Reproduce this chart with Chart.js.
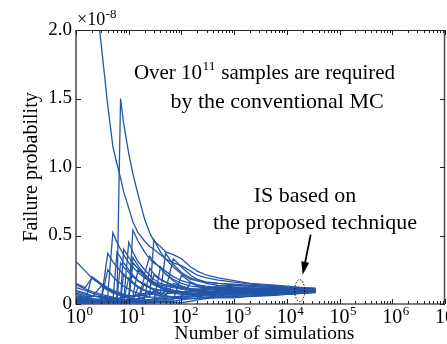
<!DOCTYPE html>
<html>
<head>
<meta charset="UTF-8">
<script src="https://cdn.jsdelivr.net/npm/chart.js"></script>
<style>
  body { margin: 0; background: #fff; }
  canvas { display: block; }
</style>
</head>
<body>
<canvas id="c" width="447" height="344"></canvas>
<script>
// number of simulations (shared x grid for all runs)
const nSim = [1, 1.5, 2, 3, 4, 5, 6, 7, 8, 10, 12, 15, 20, 25, 30, 40, 50, 70, 100, 150, 200, 300, 500, 1000, 2000, 5000, 10000, 20000, 35000];

// running failure probability estimates, in units of 1e-8
const run01 = [4.2, 3.1, 2.5, 1.9, 1.45, 1.15, 1.02, 0.92, 0.82, 0.70, 0.60, 0.52, 0.46, 0.42, 0.40, 0.36, 0.33, 0.30, 0.28, 0.24, 0.21, 0.19, 0.175, 0.16, 0.145, 0.135, 0.125, 0.118, 0.113];
const run02 = [0.02, 0.03, 0.02, 0.04, 0.05, 0.04, 0.05, 1.50, 1.32, 1.10, 0.95, 0.80, 0.62, 0.52, 0.46, 0.42, 0.38, 0.36, 0.33, 0.27, 0.24, 0.21, 0.19, 0.17, 0.15, 0.14, 0.13, 0.12, 0.115];
const run03 = [0.05, 0.04, 0.06, 0.05, 0.06, 0.52, 0.45, 0.40, 0.36, 0.30, 0.27, 0.23, 0.19, 0.17, 0.16, 0.14, 0.13, 0.12, 0.11, 0.10, 0.09, 0.08, 0.07, 0.065, 0.068, 0.072, 0.078, 0.083, 0.087];
const run04 = [0.02, 0.03, 0.02, 0.03, 0.37, 0.31, 0.27, 0.24, 0.21, 0.18, 0.20, 0.17, 0.14, 0.12, 0.11, 0.10, 0.09, 0.09, 0.085, 0.08, 0.07, 0.065, 0.06, 0.055, 0.06, 0.066, 0.072, 0.079, 0.085];
const run05 = [0.31, 0.24, 0.19, 0.14, 0.11, 0.09, 0.08, 0.07, 0.06, 0.05, 0.30, 0.26, 0.21, 0.18, 0.16, 0.13, 0.12, 0.10, 0.09, 0.09, 0.10, 0.115, 0.13, 0.135, 0.13, 0.122, 0.115, 0.11, 0.107];
const run06 = [0.01, 0.01, 0.02, 0.02, 0.03, 0.03, 0.02, 0.03, 0.40, 0.34, 0.30, 0.26, 0.22, 0.35, 0.31, 0.26, 0.22, 0.18, 0.15, 0.13, 0.125, 0.12, 0.12, 0.12, 0.118, 0.112, 0.108, 0.105, 0.103];
const run07 = [0.04, 0.03, 0.03, 0.02, 0.02, 0.03, 0.03, 0.03, 0.03, 0.02, 0.54, 0.46, 0.38, 0.33, 0.30, 0.27, 0.24, 0.20, 0.17, 0.15, 0.14, 0.13, 0.12, 0.11, 0.105, 0.10, 0.10, 0.10, 0.10];
const run08 = [0.00, 0.01, 0.01, 0.01, 0.02, 0.02, 0.02, 0.02, 0.03, 0.03, 0.03, 0.04, 0.05, 0.05, 0.47, 0.38, 0.33, 0.27, 0.22, 0.18, 0.17, 0.16, 0.15, 0.145, 0.135, 0.128, 0.12, 0.113, 0.11];
const run09 = [0.02, 0.01, 0.02, 0.02, 0.03, 0.03, 0.04, 0.04, 0.05, 0.05, 0.05, 0.06, 0.07, 0.08, 0.09, 0.08, 0.37, 0.29, 0.23, 0.19, 0.17, 0.15, 0.135, 0.125, 0.118, 0.11, 0.106, 0.103, 0.101];
const run10 = [0.03, 0.03, 0.02, 0.03, 0.03, 0.04, 0.04, 0.04, 0.05, 0.06, 0.06, 0.07, 0.08, 0.08, 0.09, 0.10, 0.10, 0.33, 0.27, 0.21, 0.18, 0.16, 0.15, 0.14, 0.128, 0.118, 0.112, 0.108, 0.105];
const run11 = [0.15, 0.12, 0.19, 0.14, 0.11, 0.09, 0.08, 0.07, 0.07, 0.06, 0.06, 0.06, 0.06, 0.07, 0.07, 0.08, 0.08, 0.08, 0.09, 0.09, 0.09, 0.085, 0.08, 0.08, 0.082, 0.086, 0.09, 0.093, 0.095];
const run12 = [0.12, 0.10, 0.08, 0.06, 0.05, 0.04, 0.04, 0.30, 0.27, 0.23, 0.20, 0.17, 0.14, 0.12, 0.11, 0.10, 0.10, 0.09, 0.09, 0.09, 0.09, 0.09, 0.095, 0.10, 0.098, 0.097, 0.098, 0.099, 0.10];
const run13 = [0.09, 0.07, 0.06, 0.05, 0.04, 0.04, 0.03, 0.03, 0.03, 0.03, 0.03, 0.04, 0.04, 0.26, 0.22, 0.18, 0.16, 0.13, 0.11, 0.10, 0.09, 0.08, 0.08, 0.085, 0.088, 0.09, 0.092, 0.094, 0.096];
const run14 = [0.06, 0.05, 0.04, 0.03, 0.03, 0.03, 0.02, 0.02, 0.02, 0.45, 0.38, 0.31, 0.25, 0.21, 0.18, 0.15, 0.14, 0.13, 0.12, 0.11, 0.11, 0.11, 0.105, 0.105, 0.105, 0.103, 0.10, 0.10, 0.10];
const run15 = [0.04, 0.03, 0.03, 0.02, 0.02, 0.02, 0.02, 0.02, 0.02, 0.02, 0.02, 0.03, 0.03, 0.03, 0.04, 0.04, 0.05, 0.05, 0.06, 0.06, 0.055, 0.05, 0.05, 0.05, 0.058, 0.065, 0.072, 0.08, 0.086];
const run16 = [0.02, 0.02, 0.20, 0.15, 0.12, 0.10, 0.09, 0.08, 0.07, 0.06, 0.06, 0.25, 0.20, 0.17, 0.15, 0.12, 0.11, 0.10, 0.09, 0.08, 0.08, 0.085, 0.09, 0.09, 0.092, 0.093, 0.095, 0.096, 0.097];
const run17 = [0.01, 0.01, 0.01, 0.01, 0.01, 0.01, 0.01, 0.01, 0.01, 0.01, 0.01, 0.01, 0.02, 0.02, 0.02, 0.03, 0.03, 0.04, 0.04, 0.04, 0.045, 0.045, 0.045, 0.045, 0.055, 0.062, 0.07, 0.078, 0.084];
const run18 = [0.07, 0.05, 0.04, 0.03, 0.25, 0.20, 0.17, 0.15, 0.13, 0.11, 0.09, 0.08, 0.06, 0.05, 0.05, 0.05, 0.06, 0.15, 0.13, 0.11, 0.10, 0.10, 0.11, 0.115, 0.112, 0.108, 0.105, 0.103, 0.103];
const run19 = [0.03, 0.02, 0.02, 0.02, 0.02, 0.02, 0.38, 0.34, 0.30, 0.25, 0.21, 0.17, 0.14, 0.12, 0.21, 0.18, 0.16, 0.14, 0.12, 0.11, 0.105, 0.105, 0.10, 0.10, 0.10, 0.10, 0.10, 0.10, 0.10];
const run20 = [0.00, 0.00, 0.00, 0.00, 0.01, 0.01, 0.01, 0.01, 0.01, 0.01, 0.34, 0.28, 0.22, 0.18, 0.15, 0.12, 0.10, 0.08, 0.07, 0.07, 0.07, 0.07, 0.072, 0.075, 0.078, 0.082, 0.086, 0.09, 0.093];
const run21 = [0.05, 0.04, 0.03, 0.03, 0.02, 0.02, 0.02, 0.02, 0.02, 0.02, 0.02, 0.02, 0.02, 0.02, 0.02, 0.02, 0.03, 0.03, 0.21, 0.16, 0.14, 0.12, 0.115, 0.11, 0.108, 0.104, 0.102, 0.10, 0.10];
const run22 = [0.10, 0.08, 0.06, 0.05, 0.04, 0.04, 0.03, 0.03, 0.03, 0.03, 0.03, 0.03, 0.20, 0.16, 0.14, 0.12, 0.11, 0.10, 0.09, 0.09, 0.09, 0.09, 0.09, 0.095, 0.097, 0.10, 0.10, 0.10, 0.10];
const run23 = [0.00, 0.00, 0.01, 0.01, 0.01, 0.01, 0.01, 0.01, 0.01, 0.01, 0.01, 0.01, 0.01, 0.01, 0.01, 0.02, 0.02, 0.02, 0.03, 0.04, 0.04, 0.05, 0.06, 0.07, 0.075, 0.08, 0.085, 0.09, 0.092];
const run24 = [0.08, 0.06, 0.05, 0.13, 0.10, 0.08, 0.07, 0.06, 0.05, 0.04, 0.04, 0.03, 0.15, 0.12, 0.10, 0.08, 0.07, 0.09, 0.08, 0.07, 0.08, 0.085, 0.09, 0.095, 0.10, 0.10, 0.102, 0.10, 0.10];
const run25 = [0.01, 0.01, 0.01, 0.02, 0.02, 0.02, 0.02, 0.02, 0.22, 0.18, 0.15, 0.12, 0.10, 0.08, 0.07, 0.06, 0.10, 0.09, 0.08, 0.07, 0.075, 0.08, 0.085, 0.09, 0.092, 0.095, 0.097, 0.098, 0.099];
const run26 = [0.02, 0.02, 0.02, 0.02, 0.02, 0.02, 0.02, 0.02, 0.02, 0.02, 0.02, 0.02, 0.02, 0.02, 0.02, 0.27, 0.22, 0.17, 0.13, 0.11, 0.10, 0.12, 0.115, 0.11, 0.105, 0.10, 0.10, 0.10, 0.10];
const run27 = [0.03, 0.03, 0.02, 0.02, 0.02, 0.02, 0.02, 0.02, 0.02, 0.02, 0.02, 0.02, 0.03, 0.03, 0.03, 0.04, 0.04, 0.05, 0.05, 0.16, 0.13, 0.11, 0.10, 0.095, 0.095, 0.097, 0.098, 0.099, 0.10];
const run28 = [0.05, 0.04, 0.03, 0.02, 0.02, 0.02, 0.02, 0.02, 0.02, 0.19, 0.16, 0.13, 0.10, 0.09, 0.08, 0.07, 0.06, 0.05, 0.05, 0.06, 0.065, 0.07, 0.075, 0.08, 0.085, 0.09, 0.094, 0.096, 0.098];
const run29 = [0.00, 0.00, 0.00, 0.00, 0.00, 0.00, 0.00, 0.00, 0.00, 0.00, 0.00, 0.00, 0.00, 0.00, 0.01, 0.01, 0.01, 0.01, 0.01, 0.02, 0.03, 0.04, 0.05, 0.06, 0.07, 0.075, 0.08, 0.086, 0.09];
const run30 = [0.14, 0.11, 0.09, 0.07, 0.06, 0.05, 0.04, 0.04, 0.03, 0.03, 0.03, 0.12, 0.10, 0.08, 0.07, 0.06, 0.06, 0.05, 0.05, 0.05, 0.06, 0.065, 0.07, 0.08, 0.085, 0.09, 0.093, 0.096, 0.098];

const runs = [run01, run02, run03, run04, run05, run06, run07, run08, run09, run10,
              run11, run12, run13, run14, run15, run16, run17, run18, run19, run20,
              run21, run22, run23, run24, run25, run26, run27, run28, run29, run30];

const yTicks = [0, 0.5, 1.0, 1.5, 2.0];
const decades = [0, 1, 2, 3, 4, 5, 6, 7];

const SERIF = '"Liberation Serif", "Times New Roman", serif';
const LINE = '#2456a8';

// pointer at the IS result (data coords)
const markX = 17500, markY = 0.097;

function supText(ctx, base, exp, x, y, bigPx, smallPx, align) {
  ctx.font = bigPx + 'px ' + SERIF;
  const wb = ctx.measureText(base).width;
  ctx.font = smallPx + 'px ' + SERIF;
  const we = ctx.measureText(exp).width;
  let x0 = x;
  if (align === 'center10') x0 = x - wb / 2;
  ctx.textAlign = 'left';
  ctx.textBaseline = 'alphabetic';
  ctx.font = bigPx + 'px ' + SERIF;
  ctx.fillText(base, x0, y);
  ctx.font = smallPx + 'px ' + SERIF;
  ctx.fillText(exp, x0 + wb + 0.5, y - bigPx * 0.4);
  return wb + we;
}

const decorPlugin = {
  id: 'decor',
  afterDraw(chart) {
    const {ctx, chartArea: a, scales} = chart;
    const xs = scales.x, ys = scales.y;
    ctx.save();

    // box
    ctx.strokeStyle = '#222';
    ctx.lineWidth = 1;
    ctx.beginPath();
    ctx.moveTo(a.left, a.top + 0.5); ctx.lineTo(a.right, a.top + 0.5);
    ctx.stroke();
    ctx.strokeStyle = '#555';
    ctx.lineWidth = 1.6;
    ctx.beginPath();
    ctx.moveTo(a.left, a.top); ctx.lineTo(a.left, a.bottom); ctx.lineTo(a.right, a.bottom);
    ctx.moveTo(a.right - 0.5, a.top); ctx.lineTo(a.right - 0.5, a.bottom);
    ctx.stroke();

    // inward ticks
    ctx.strokeStyle = '#222';
    ctx.lineWidth = 1;
    ctx.beginPath();
    decades.forEach(d => {
      for (let m = 1; m <= 9; m++) {
        const v = m * Math.pow(10, d);
        if (v > 1e7) break;
        const px = Math.round(xs.getPixelForValue(v)) + 0.5;
        const len = m === 1 ? 5 : 3;
        ctx.moveTo(px, a.bottom); ctx.lineTo(px, a.bottom - len);
        ctx.moveTo(px, a.top); ctx.lineTo(px, a.top + len);
      }
    });
    yTicks.forEach(v => {
      const py = Math.round(ys.getPixelForValue(v)) + 0.5;
      ctx.moveTo(a.left, py); ctx.lineTo(a.left + 5, py);
      ctx.moveTo(a.right, py); ctx.lineTo(a.right - 5, py);
    });
    ctx.stroke();

    ctx.fillStyle = '#000';
    // x tick labels 10^n
    decades.forEach(d => {
      const px = xs.getPixelForValue(Math.pow(10, d));
      supText(ctx, '10', String(d), px, 323, 20, 13, 'center10');
    });

    // scale factor
    supText(ctx, '\u00d710', '-8', a.left + 1, 25, 18, 13, 'left');

    // axis titles
    ctx.font = '19.5px ' + SERIF;
    ctx.textAlign = 'center';
    ctx.textBaseline = 'middle';
    ctx.fillText('Number of simulations', (a.left + a.right) / 2 + 4, 334);
    ctx.font = '20px ' + SERIF;
    ctx.save();
    ctx.translate(32, (a.top + a.bottom) / 2);
    ctx.rotate(-Math.PI / 2);
    ctx.fillText('Failure probability', 0, 0);
    ctx.restore();

    // annotations
    ctx.textBaseline = 'alphabetic';
    const big = '21px ' + SERIF, small = '13.5px ' + SERIF;
    ctx.font = big;
    const p1 = 'Over 10', p2 = ' samples are required';
    const w1 = ctx.measureText(p1).width;
    const w2 = ctx.measureText(p2).width;
    ctx.font = small;
    const wsup = ctx.measureText('11').width;
    const sx = 264 - (w1 + wsup + w2) / 2;
    ctx.textAlign = 'left';
    ctx.font = big;
    ctx.fillText(p1, sx, 79);
    ctx.fillText(p2, sx + w1 + wsup + 1, 79);
    ctx.font = small;
    ctx.fillText('11', sx + w1 + 0.5, 70);
    ctx.font = '22px ' + SERIF;
    ctx.textAlign = 'center';
    ctx.fillText('by the conventional MC', 277, 108);
    ctx.fillText('IS based on', 305, 202);
    ctx.fillText('the proposed technique', 315, 229);

    // dotted ellipse around IS result
    const ex = xs.getPixelForValue(markX), ey = ys.getPixelForValue(markY);
    ctx.strokeStyle = '#000';
    ctx.lineWidth = 1;
    ctx.setLineDash([1.5, 1.5]);
    ctx.beginPath();
    ctx.ellipse(ex, ey, 5, 11, 0, 0, Math.PI * 2);
    ctx.stroke();
    ctx.setLineDash([]);

    // arrow
    const tx = ex + 3, ty = ey - 16;
    const fx = tx + 8, fy = ty - 40;
    const ang = Math.atan2(ty - fy, tx - fx);
    ctx.lineWidth = 1.8;
    ctx.beginPath();
    ctx.moveTo(fx, fy);
    ctx.lineTo(tx - 8 * Math.cos(ang), ty - 8 * Math.sin(ang));
    ctx.stroke();
    ctx.beginPath();
    ctx.moveTo(tx, ty);
    ctx.lineTo(tx - 13 * Math.cos(ang) + 4 * Math.sin(ang), ty - 13 * Math.sin(ang) - 4 * Math.cos(ang));
    ctx.lineTo(tx - 13 * Math.cos(ang) - 4 * Math.sin(ang), ty - 13 * Math.sin(ang) + 4 * Math.cos(ang));
    ctx.closePath();
    ctx.fill();

    ctx.restore();
  }
};

const datasets = runs.map(r => ({
  data: r.map((y, i) => ({x: nSim[i], y: y})),
  borderColor: LINE,
  borderWidth: 1.3,
  pointRadius: 0,
  tension: 0,
  fill: false
}));

new Chart(document.getElementById('c').getContext('2d'), {
  type: 'line',
  data: { datasets: datasets },
  options: {
    responsive: false,
    animation: false,
    layout: { padding: { top: 30, right: 2, left: 0, bottom: 0 } },
    plugins: { legend: { display: false }, tooltip: { enabled: false } },
    scales: {
      x: {
        type: 'logarithmic',
        min: 1, max: 1e7,
        grid: { display: false, drawTicks: false },
        border: { display: false },
        ticks: { display: false },
        afterFit(s) { s.height = 40; }
      },
      y: {
        min: 0, max: 2,
        grid: { display: false, drawTicks: false },
        border: { display: false },
        afterBuildTicks(s) { s.ticks = yTicks.map(v => ({value: v})); },
        ticks: {
          color: '#000',
          padding: 4,
          font: { family: SERIF, size: 19 },
          callback: v => v === 0 ? '0' : v.toFixed(1)
        },
        afterFit(s) { s.width = 76; }
      }
    }
  },
  plugins: [decorPlugin]
});
</script>
</body>
</html>
